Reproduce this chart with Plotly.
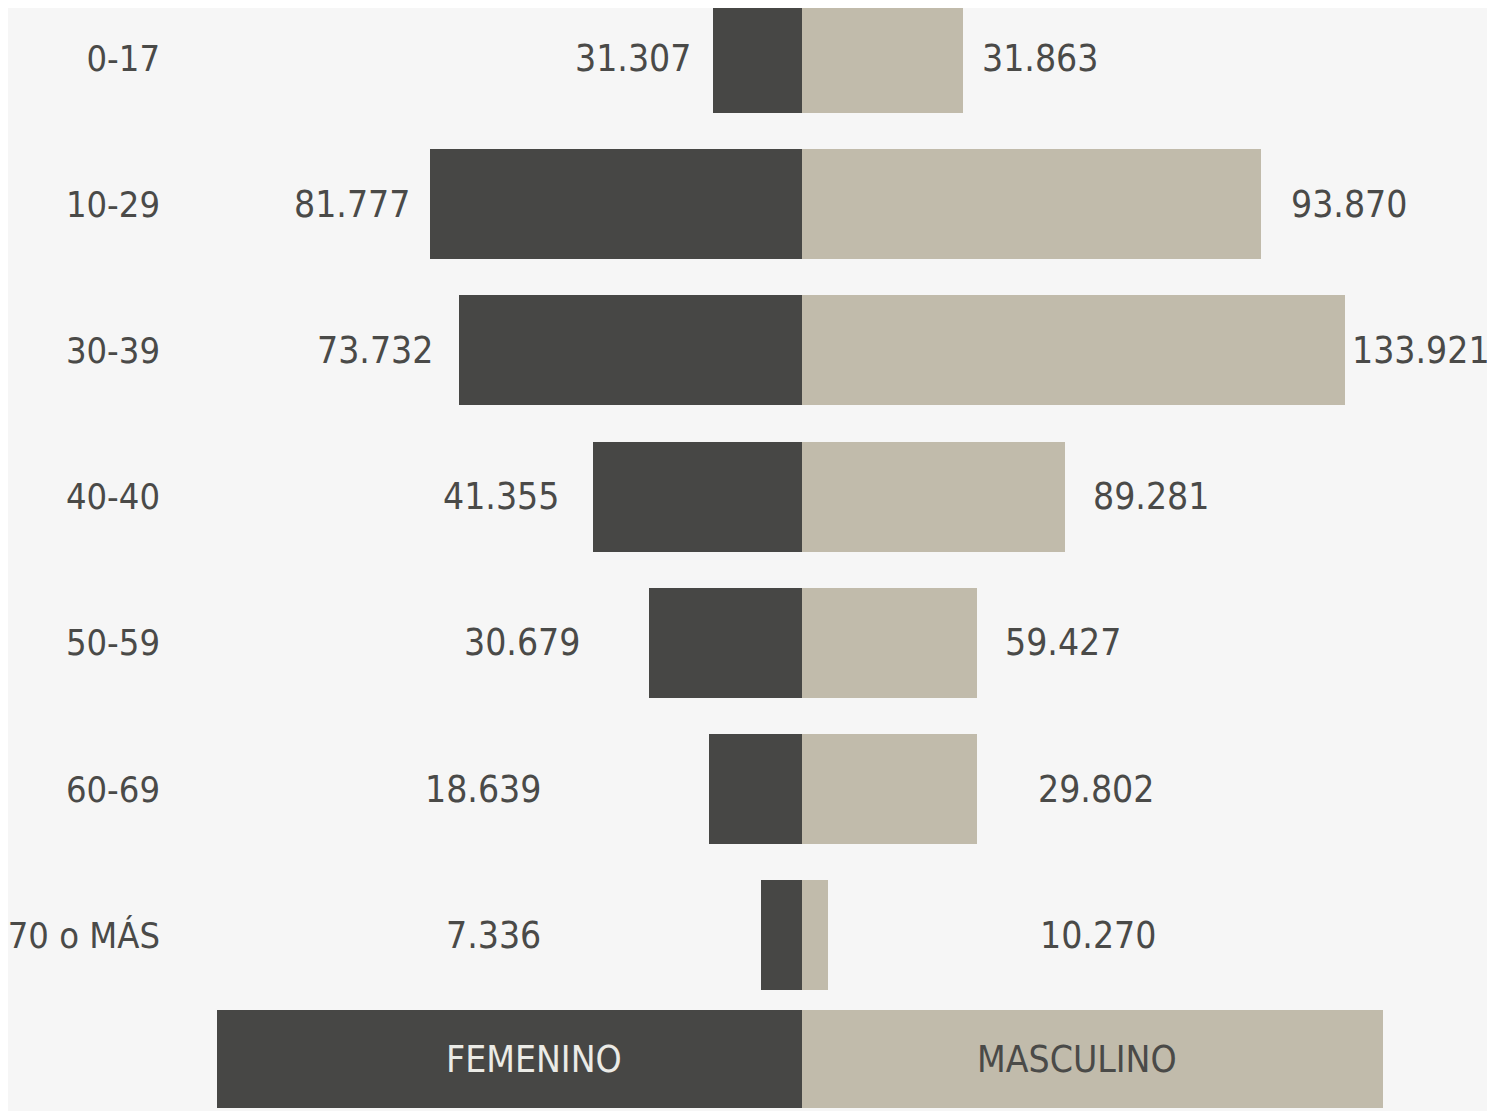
import plotly.graph_objects as go

# ---------------- data ----------------
categorias = ["0-17", "10-29", "30-39", "40-40", "50-59", "60-69", "70 o MÁS"]
femenino = [31307, 81777, 73732, 41355, 30679, 18639, 7336]
masculino = [31863, 93870, 133921, 89281, 59427, 29802, 10270]
# bar lengths as drawn in the infographic (axis units)
femenino_barra = [17.8, 74.4, 68.6, 41.8, 30.6, 18.6, 8.2]
masculino_barra = [32.2, 91.8, 108.6, 52.6, 35.0, 35.0, 5.2]
leyenda = ["FEMENINO", "MASCULINO"]
leyenda_barra = [117.0, 116.2]

# ---------------- style / layout ----------------
W, H = 1487, 1103          # page body adds an 8px offset
C_FEM = "#474745"
C_MAS = "#c1bbab"
C_TXT = "#4a4a48"
BG = "#f6f6f6"
FONT = "Liberation Sans Narrow, DejaVu Sans Condensed, Arial Narrow, sans-serif"
FS = 37
FS_TICK = 36
# label anchor positions (axis units), layout only
pos_fem = [-33.8, -90.1, -85.4, -60.2, -56.1, -63.9, -61.8]
anc_fem = ["center"] * 7
pos_mas = [47.5, 109.4, 138.0, 69.8, 52.2, 58.8, 59.2]
anc_mas = ["center", "center", "right", "center", "center", "center", "center"]
pos_ley = [-53.6, 55.0]

def fmt(v):
    return f"{v:,}".replace(",", ".")

fig = go.Figure()
fig.add_trace(go.Bar(
    y=categorias, x=[-v for v in femenino_barra], orientation="h",
    marker=dict(color=C_FEM, line=dict(width=0)), width=0.752,
    name="FEMENINO", showlegend=False, hoverinfo="skip",
    customdata=femenino, xaxis="x", yaxis="y"))
fig.add_trace(go.Bar(
    y=categorias, x=masculino_barra, orientation="h",
    marker=dict(color=C_MAS, line=dict(width=0)), width=0.752,
    name="MASCULINO", showlegend=False, hoverinfo="skip",
    customdata=masculino, xaxis="x", yaxis="y"))

# legend bar
fig.add_trace(go.Bar(
    y=["leyenda"], x=[-leyenda_barra[0]], orientation="h", width=1.0,
    marker=dict(color=C_FEM, line=dict(width=0)),
    showlegend=False, hoverinfo="skip", xaxis="x", yaxis="y2"))
fig.add_trace(go.Bar(
    y=["leyenda"], x=[leyenda_barra[1]], orientation="h", width=1.0,
    marker=dict(color=C_MAS, line=dict(width=0)),
    showlegend=False, hoverinfo="skip", xaxis="x", yaxis="y2"))

annotations = []
for i, c in enumerate(categorias):
    annotations.append(dict(x=pos_fem[i], y=c, xref="x", yref="y", text=fmt(femenino[i]),
                            xanchor=anc_fem[i], yanchor="middle", showarrow=False,
                            font=dict(family=FONT, size=FS, color=C_TXT)))
    annotations.append(dict(x=pos_mas[i], y=c, xref="x", yref="y", text=fmt(masculino[i]),
                            xanchor=anc_mas[i], yanchor="middle", showarrow=False,
                            font=dict(family=FONT, size=FS, color=C_TXT)))
annotations.append(dict(x=pos_ley[0], y="leyenda", xref="x", yref="y2", text=leyenda[0],
                        xanchor="center", yanchor="middle", showarrow=False,
                        font=dict(family=FONT, size=FS, color="#ebebe6")))
annotations.append(dict(x=pos_ley[1], y="leyenda", xref="x", yref="y2", text=leyenda[1],
                        xanchor="center", yanchor="middle", showarrow=False,
                        font=dict(family=FONT, size=FS, color=C_TXT)))

L = 157
scale = 5.0
center = 794
x0 = -(center - L) / scale
x1 = (W - center) / scale
row = 146.2
first = 50
main_bottom_px = 992
yr_top = -first / row
yr_bot = (main_bottom_px - first) / row

fig.update_layout(
    width=W, height=H,
    margin=dict(l=L, r=0, t=0, b=0, pad=0),
    paper_bgcolor=BG, plot_bgcolor=BG,
    barmode="relative", bargap=0,
    font=dict(family=FONT, size=FS, color=C_TXT),
    xaxis=dict(range=[x0, x1], visible=False, fixedrange=True, anchor="y",
               automargin=False),
    yaxis=dict(domain=[1 - main_bottom_px / H, 1], range=[yr_bot, yr_top],
               type="category", categoryorder="array", categoryarray=categorias,
               showgrid=False, zeroline=False, showline=False, ticks="",
               ticklabelstandoff=4, automargin=False,
               tickfont=dict(family=FONT, size=FS_TICK, color=C_TXT)),
    yaxis2=dict(domain=[1 - 1100 / H, 1 - 1002 / H], range=[-0.5, 0.5],
                type="category", visible=False, anchor="x", automargin=False),
    annotations=annotations,
)

fig.write_html("out.html")
